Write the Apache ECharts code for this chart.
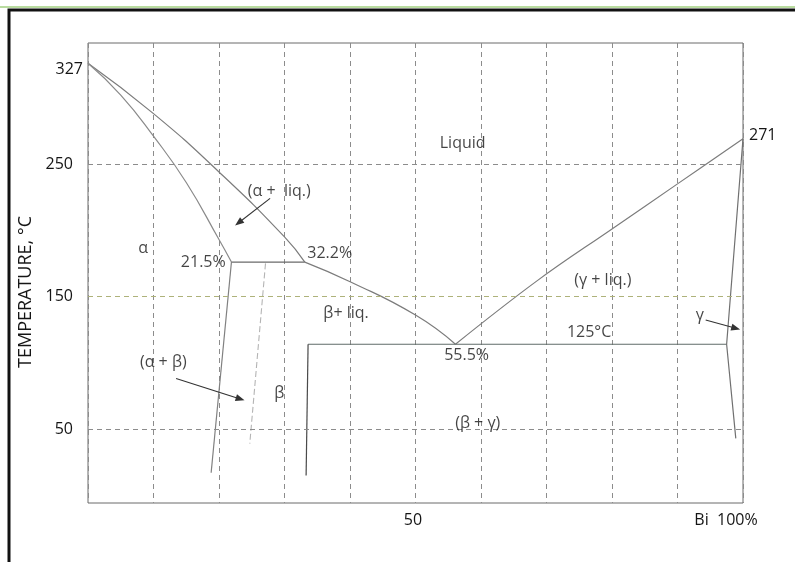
<!DOCTYPE html>
<html>
<head>
<meta charset="utf-8">
<script src="https://cdn.jsdelivr.net/npm/echarts@6/dist/echarts.min.js"></script>
<style>
html,body{margin:0;padding:0;background:#fff;}
#chart{width:795px;height:562px;}
</style>
</head>
<body>
<div id="chart"></div>
<script>
// ---- data (x = % Bi, y = temperature °C) ----
const liquidusPb   = [[0,326],[10,288],[20,244],[30,195],[33.1,176]];
const solidusPb    = [[0,326],[5,302],[10,271],[15,236],[20,193],[21.9,176]];
const peritectic   = [[21.9,176],[33.1,176]];
const alphaSolvus  = [[21.9,176],[18.8,17]];
const betaLeft     = [[27.1,175],[24.7,39]];
const liquidusMid  = [[33.1,176],[40.1,161],[50,136],[56.1,114]];
const liquidusBi   = [[56.1,114],[68.6,162],[80,201],[90,235],[100,269]];
const eutectic     = [[33.6,114],[97.5,114]];
const betaRight    = [[33.6,114],[33.3,15]];
const gammaSolvus  = [[100,269],[97.5,114],[98.9,43]];
const tempTicks    = [50,150,250];
const xTickLabels  = {50:'50',100:'Bi  100%'};
const regionLabels = [
  ['Liquid',57.2,265.8],
  ['(α +  liq.)',29.2,229.6],
  ['α',8.4,186.6],
  ['21.5%',17.6,176],
  ['32.2%',36.9,182.8],
  ['β+ liq.',39.4,137.5],
  ['(α + β)',11.5,100.6],
  ['β',29.2,77.2],
  ['55.5%',57.8,105.8],
  ['125°C',76.5,123.2],
  ['(γ + liq.)',78.6,162.5],
  ['γ',93.4,136],
  ['(β + γ)',59.5,54.5]
];
const arrows = [
  [[27.8,224.1],[23.0,205.7]],
  [[13.45,88.2],[23.24,72.7]],
  [[94.3,132.3],[98.9,126]]
];
const meltPb = '327';
const meltBi = '271';

const FONT = 'Open Sans';
const TXT = '#151515';
const chart = echarts.init(document.getElementById('chart'), null, {renderer:'canvas'});

function lineSeries(data, color, extra){
  return Object.assign({
    type:'line', data:data, showSymbol:false, symbol:'none', z:3,
    lineStyle:{color:color, width:1.2}, silent:true, animation:false
  }, extra||{});
}

const option = {
  animation:false,
  backgroundColor:'#ffffff',
  textStyle:{fontFamily:FONT},
  grid:{left:88, top:43, right:52, bottom:59, show:true, borderColor:'#6a6a6a', borderWidth:1},
  xAxis:{
    type:'value', min:0, max:100, interval:10,
    axisLine:{show:false}, axisTick:{show:false},
    splitLine:{show:true, lineStyle:{type:[5,4], color:'#8c8c8c', width:1}},
    axisLabel:{
      margin:9, fontSize:16, color:TXT, fontFamily:FONT,
      showMaxLabel:true,
      formatter:function(v){
        if (v===100) return '{b|' + xTickLabels[100] + '}';
        return xTickLabels[v] ? '{a|' + xTickLabels[v] + '}' : '';
      },
      rich:{
        a:{fontSize:16, color:TXT, fontFamily:FONT, padding:[0,5,0,0]},
        b:{fontSize:16, color:TXT, fontFamily:FONT, padding:[0,34,0,0]}
      }
    }
  },
  yAxis:{
    type:'value', min:-5.8, max:341.3,
    name:'TEMPERATURE, °C', nameLocation:'middle', nameGap:53, nameRotate:90,
    nameTextStyle:{fontSize:18, color:TXT, fontFamily:FONT, padding:[0,38,0,0]},
    axisLine:{show:false}, axisTick:{show:false}, splitLine:{show:false},
    axisLabel:{customValues:tempTicks, margin:15, fontSize:16, color:TXT, fontFamily:FONT}
  },
  graphic:[
    {type:'polyline', shape:{points:[[0,7],[795,7]]}, style:{stroke:'#b9dca0', lineWidth:2}, silent:true},
    {type:'polyline', shape:{points:[[9,562],[9,10],[795,10]]}, style:{stroke:'#111', lineWidth:3, fill:null}, silent:true}
  ],
  series:[
    { // horizontal dashed gridlines
      type:'line', data:[], z:1, silent:true,
      markLine:{
        silent:true, symbol:['none','none'], label:{show:false},
        lineStyle:{type:[5,4], color:'#8c8c8c', width:1},
        data: tempTicks.map(function(t){
          return t===150 ? {yAxis:t, lineStyle:{color:'#aeb27a', type:[5,4], width:1}} : {yAxis:t};
        })
      }
    },
    lineSeries(liquidusPb,'#7c7c7c',{smooth:0.5,
      markPoint:{symbol:'circle', symbolSize:0, silent:true,
        label:{show:true, position:'left', distance:5, offset:[0,6], formatter:meltPb, fontSize:16, color:TXT, fontFamily:FONT},
        data:[{coord:liquidusPb[0]}]}}),
    lineSeries(solidusPb,'#8a8a8a',{smooth:0.5}),
    lineSeries(peritectic,'#6a6a6a'),
    lineSeries(alphaSolvus,'#808080'),
    lineSeries(betaLeft,'#b4b4b4',{lineStyle:{color:'#b4b4b4', width:1.1, type:[6,3]}}),
    lineSeries(liquidusMid,'#7c7c7c',{smooth:0.5}),
    lineSeries(liquidusBi,'#7c7c7c',{smooth:0.4,
      markPoint:{symbol:'circle', symbolSize:0, silent:true,
        label:{show:true, position:'right', distance:6, offset:[0,-3], formatter:meltBi, fontSize:16, color:TXT, fontFamily:FONT},
        data:[{coord:liquidusBi[liquidusBi.length-1]}]}}),
    lineSeries(eutectic,'#5f6b68'),
    lineSeries(betaRight,'#4a4a4a'),
    lineSeries(gammaSolvus,'#707070'),
    { // region labels
      type:'scatter', z:5, silent:true, clip:false,
      symbolSize:0,
      data: regionLabels.map(function(r){ return {name:r[0], value:[r[1], r[2]]}; }),
      label:{show:true, position:'inside', formatter:'{b}', fontSize:16, color:TXT, fontFamily:FONT}
    },
    { // arrows
      type:'line', data:[], z:4, silent:true,
      markLine:{
        silent:true, symbol:['none','triangle'], symbolSize:[7,9],
        label:{show:false},
        lineStyle:{type:'solid', color:'#333', width:1.1},
        data: arrows.map(function(a){ return [{coord:a[0]},{coord:a[1]}]; })
      }
    }
  ]
};
chart.setOption(option);
</script>
</body>
</html>
